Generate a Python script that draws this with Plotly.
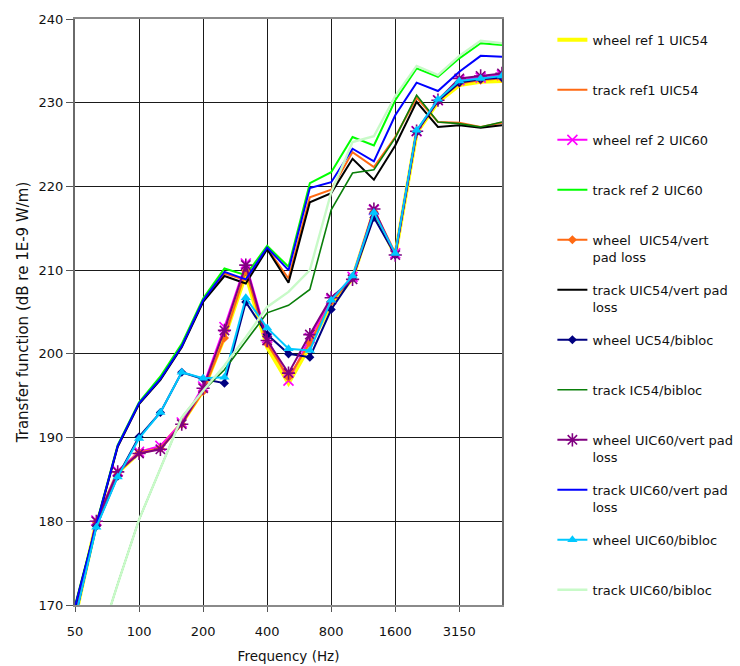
import plotly.graph_objects as go

# Third-octave band centre frequencies (Hz)
freqs = ["50", "63", "80", "100", "125", "160", "200", "250", "315", "400", "500",
         "630", "800", "1000", "1250", "1600", "2000", "2500", "3150", "4000", "5000"]
tick_labels = ["50", "100", "200", "400", "800", "1600", "3150"]

# Transfer functions, dB re 1E-9 W/m
wheel_ref1_uic54 = [168.4, 179.9, 185.8, 188.2, 188.8, 191.7, 195.6, 202.0, 209.5, 200.8, 196.5,
                    201.0, 206.0, 209.0, 217.0, 211.8, 226.4, 230.1, 232.1, 232.5, 232.6]
track_ref1_uic54 = [169.8, 179.6, 189.0, 194.1, 197.0, 201.0, 206.3, 209.6, 208.8, 212.6, 209.0,
                    218.7, 219.6, 224.1, 222.3, 225.9, 230.6, 227.7, 227.6, 227.1, 227.6]
wheel_ref2_uic60 = [168.5, 180.1, 186.0, 188.3, 189.0, 191.8, 196.1, 203.2, 210.8, 201.9, 196.8,
                    201.9, 206.5, 209.2, 217.2, 212.0, 226.6, 230.3, 232.7, 233.0, 233.3]
track_ref2_uic60 = [169.9, 179.7, 189.1, 194.2, 197.3, 201.2, 206.6, 210.2, 209.4, 212.9, 210.4,
                    220.4, 221.7, 225.9, 224.9, 230.3, 234.1, 233.1, 235.3, 237.1, 236.9]
wheel_uic54_vpl = [168.4, 179.9, 185.8, 188.2, 188.7, 191.6, 195.5, 201.9, 209.9, 201.2, 197.2,
                   201.3, 206.2, 209.1, 217.0, 211.9, 226.5, 230.2, 232.3, 232.7, 232.9]
track_uic54_vpl = [169.7, 179.5, 188.9, 194.0, 196.9, 200.8, 206.2, 209.3, 208.4, 212.5, 208.5,
                   218.1, 219.2, 223.3, 220.8, 224.9, 230.1, 227.1, 227.3, 227.0, 227.3]
wheel_uc54_bibloc = [168.4, 179.4, 185.4, 190.1, 193.0, 197.8, 197.0, 196.5, 206.2, 202.3, 200.0,
                     199.6, 205.3, 209.1, 216.3, 211.8, 226.5, 230.2, 232.4, 232.8, 233.0]
track_ic54_bibloc = [157.5, 164.5, 172.5, 180.2, 186.3, 192.4, 195.6, 198.1, 201.5, 204.9, 205.8,
                     207.7, 217.2, 221.6, 222.0, 225.8, 230.9, 227.7, 227.5, 227.1, 227.7]
wheel_uic60_vpl = [168.5, 180.0, 185.9, 188.1, 188.6, 191.6, 195.9, 202.8, 210.6, 201.6, 197.7,
                   202.3, 206.7, 208.9, 217.3, 211.8, 226.6, 230.3, 232.9, 233.2, 233.5]
track_uic60_vpl = [169.8, 179.6, 189.0, 194.1, 197.0, 200.9, 206.4, 209.8, 208.9, 212.7, 210.0,
                   219.8, 220.5, 224.5, 223.0, 228.5, 232.4, 231.4, 233.7, 235.6, 235.5]
wheel_uic60_bibloc = [168.4, 179.3, 185.3, 189.9, 193.0, 197.8, 197.1, 197.2, 206.7, 203.1, 200.6,
                      200.4, 206.4, 209.3, 216.9, 212.0, 226.7, 230.4, 232.6, 232.9, 233.2]
track_uic60_bibloc = [157.5, 164.5, 172.5, 180.2, 186.3, 192.4, 195.6, 198.6, 202.0, 205.6, 207.4,
                      210.0, 219.3, 225.3, 226.0, 230.8, 234.4, 233.3, 235.6, 237.4, 237.1]

x_idx = list(range(len(freqs)))
tick_idx = [freqs.index(t) for t in tick_labels]

PAD = "<br>\u00a0"  # keeps single-line legend entries two lines tall

series = [
    ("wheel ref 1 UIC54" + PAD, wheel_ref1_uic54, "#FFFF00", 4, None),
    ("track ref1 UIC54" + PAD, track_ref1_uic54, "#FF6A13", 2, None),
    ("wheel ref 2 UIC60" + PAD, wheel_ref2_uic60, "#FF00FF", 2,
     dict(symbol="x-thin-open", size=10, line=dict(width=1.6, color="#FF00FF"))),
    ("track ref 2 UIC60" + PAD, track_ref2_uic60, "#00FF00", 2, None),
    ("wheel  UIC54/vert<br>pad loss", wheel_uic54_vpl, "#FF6A13", 2,
     dict(symbol="diamond", size=7, color="#FF6A13")),
    ("track UIC54/vert pad<br>loss", track_uic54_vpl, "#000000", 2, None),
    ("wheel UC54/bibloc" + PAD, wheel_uc54_bibloc, "#000080", 2,
     dict(symbol="diamond", size=7, color="#000080")),
    ("track IC54/bibloc" + PAD, track_ic54_bibloc, "#0A7F0A", 1.6, None),
    ("wheel UIC60/vert pad<br>loss", wheel_uic60_vpl, "#800080", 2,
     dict(symbol="asterisk-open", size=11, line=dict(width=1.6, color="#800080"))),
    ("track UIC60/vert pad<br>loss", track_uic60_vpl, "#0000FF", 2, None),
    ("wheel UIC60/bibloc" + PAD, wheel_uic60_bibloc, "#00C8FF", 2,
     dict(symbol="triangle-up", size=9, color="#00C8FF")),
    ("track UIC60/bibloc", track_uic60_bibloc, "#C8FAC8", 2.4, None),
]

fig = go.Figure()
for name, vals, color, width, marker in series:
    fig.add_trace(go.Scatter(
        x=x_idx, y=vals, name=name, legendgroup=name,
        mode="lines+markers" if marker else "lines",
        line=dict(color=color, width=width),
        marker=marker,
    ))

FONT = "DejaVu Sans"

fig.update_layout(
    width=740, height=666,
    margin=dict(l=75, r=238, t=19, b=61, autoexpand=False),
    paper_bgcolor="white", plot_bgcolor="white",
    font=dict(family=FONT, size=13, color="#111"),
    legend=dict(
        x=1.118, xanchor="left", y=0.99, yanchor="top",
        font=dict(family=FONT, size=13, color="#111"),
        valign="top", tracegroupgap=13.2, bgcolor="rgba(0,0,0,0)",
    ),
    xaxis=dict(
        range=[0, len(freqs) - 1],
        tickmode="array", tickvals=tick_idx, ticktext=tick_labels,
        ticks="outside", ticklen=5, tickcolor="#555", ticklabelstandoff=8,
        showgrid=True, gridcolor="#1a1a1a", gridwidth=1,
        showline=True, linecolor="#8a8a8a", linewidth=2, mirror=True,
        zeroline=False,
        title=dict(text="Frequency (Hz)", font=dict(family=FONT, size=13.5), standoff=14),
    ),
    yaxis=dict(
        range=[170, 240], dtick=10,
        ticks="outside", ticklen=7, tickcolor="#555",
        showgrid=True, gridcolor="#1a1a1a", gridwidth=1,
        showline=True, linecolor="#6a6a6a", linewidth=2, mirror=True,
        zeroline=False,
        title=dict(text="Transfer function (dB re 1E-9 W/m)",
                   font=dict(family=FONT, size=15), standoff=6),
    ),
)

fig.write_html("out.html")
